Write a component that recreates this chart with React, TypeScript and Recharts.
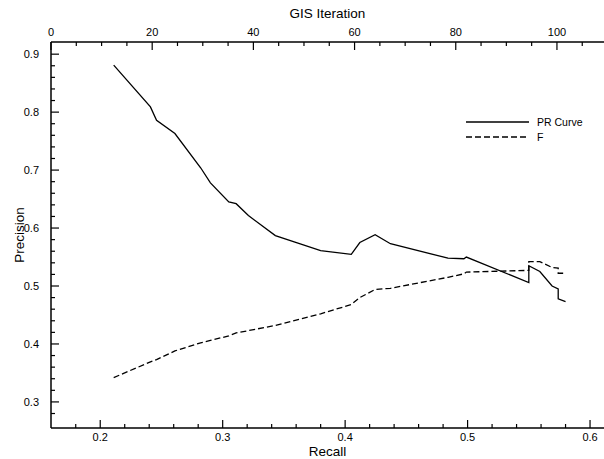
import React from "react";
import { Legend, Line, LineChart, XAxis, YAxis } from "recharts";

// values
const recall = [
  0.211, 0.241, 0.246, 0.261, 0.282, 0.29, 0.305, 0.311, 0.321, 0.343, 0.38,
  0.405, 0.412, 0.4245, 0.437, 0.484, 0.497, 0.499, 0.55, 0.55, 0.559, 0.569,
  0.574, 0.574, 0.58,
];
const precision = [
  0.881, 0.809, 0.786, 0.763, 0.704, 0.678, 0.645, 0.642, 0.6215, 0.587, 0.561,
  0.5545, 0.575, 0.5886, 0.573, 0.548, 0.547, 0.55, 0.506, 0.535, 0.525, 0.5,
  0.495, 0.478, 0.473,
];
const fScore = [
  0.342, 0.369, 0.373, 0.388, 0.402, 0.406, 0.414, 0.419, 0.423, 0.432, 0.452,
  0.468, 0.48, 0.494, 0.496, 0.515, 0.521, 0.524, 0.527, 0.542, 0.542, 0.532,
  0.531, 0.522, 0.522,
];

const recallTicks = [
  0.18, 0.2, 0.22, 0.24, 0.26, 0.28, 0.3, 0.32, 0.34, 0.36, 0.38, 0.4, 0.42,
  0.44, 0.46, 0.48, 0.5, 0.52, 0.54, 0.56, 0.58, 0.6,
];
const precisionTicks = [
  0.28, 0.3, 0.32, 0.34, 0.36, 0.38, 0.4, 0.42, 0.44, 0.46, 0.48, 0.5, 0.52,
  0.54, 0.56, 0.58, 0.6, 0.62, 0.64, 0.66, 0.68, 0.7, 0.72, 0.74, 0.76, 0.78,
  0.8, 0.82, 0.84, 0.86, 0.88, 0.9,
];
const iterationTicks = [
  0, 5, 10, 15, 20, 25, 30, 35, 40, 45, 50, 55, 60, 65, 70, 75, 80, 85, 90, 95,
  100, 105,
];
const seriesOrder = ["precision", "f"];

const data = recall.map((r, i) => ({
  recall: r,
  precision: precision[i],
  f: fScore[i],
}));

const FONT = "'Liberation Sans', Arial, Helvetica, sans-serif";
const MAJOR = 8;
const MINOR = 4;

const isMajor = (v: number, step: number) =>
  Math.abs(v / step - Math.round(v / step)) < 1e-6;

const BottomTick = ({ x, y, payload }: any) => {
  const major = isMajor(payload.value, 0.1);
  return (
    <g>
      <line x1={x} y1={y} x2={x} y2={y - (major ? MAJOR : MINOR)} stroke="#000" strokeWidth={1.2} />
      {major && (
        <text x={x} y={y + 9} dy="0.35em" textAnchor="middle" fontSize={11} fontFamily={FONT} fill="#000">
          {payload.value.toFixed(1)}
        </text>
      )}
    </g>
  );
};

const TopTick = ({ x, y, payload }: any) => {
  const major = isMajor(payload.value, 20);
  return (
    <g>
      <line x1={x} y1={y} x2={x} y2={y + (major ? MAJOR : MINOR)} stroke="#000" strokeWidth={1.2} />
      {major && (
        <text x={x} y={y - 10} dy="0.35em" textAnchor="middle" fontSize={11} fontFamily={FONT} fill="#000">
          {payload.value}
        </text>
      )}
    </g>
  );
};

const LeftTick = ({ x, y, payload }: any) => {
  const major = isMajor(payload.value, 0.1);
  return (
    <g>
      <line x1={x} y1={y} x2={x + (major ? MAJOR : MINOR)} y2={y} stroke="#000" strokeWidth={1.2} />
      {major && (
        <text x={x - 12} y={y} dy="0.35em" textAnchor="end" fontSize={11} fontFamily={FONT} fill="#000">
          {payload.value.toFixed(1)}
        </text>
      )}
    </g>
  );
};

const axisTitle = (text: string, dx: number, dy: number, rotate = false) =>
  ({ viewBox }: any) => {
    const cx = rotate ? viewBox.x + dx : viewBox.x + viewBox.width / 2;
    const cy = rotate ? viewBox.y + viewBox.height / 2 : viewBox.y + dy;
    return (
      <text
        x={cx}
        y={cy}
        dy="0.35em"
        textAnchor="middle"
        fontSize={13.5}
        fontFamily={FONT}
        fill="#000"
        transform={rotate ? `rotate(-90 ${cx} ${cy})` : undefined}
      >
        {text}
      </text>
    );
  };

const LegendBox = ({ payload }: any) => {
  const items = [...(payload || [])].sort(
    (a: any, b: any) => seriesOrder.indexOf(a.dataKey) - seriesOrder.indexOf(b.dataKey)
  );
  return (
    <div style={{ fontFamily: FONT, fontSize: 10.5, color: "#000" }}>
      {items.map((p: any) => (
        <div key={p.value} style={{ display: "flex", alignItems: "center", height: 14.6 }}>
          <svg width={64} height={6}>
            <line
              x1={0}
              y1={3}
              x2={63}
              y2={3}
              stroke="#000"
              strokeWidth={1.3}
              strokeDasharray={p.dataKey === "f" ? "6 3" : undefined}
            />
          </svg>
          <span style={{ marginLeft: 7 }}>{p.value}</span>
        </div>
      ))}
    </div>
  );
};

export default function App() {
  return (
    <div style={{ position: "absolute", left: 0, top: 0, background: "#fff" }}>
      <LineChart
        width={604}
        height={459}
        data={data}
        margin={{ top: 0, right: 0, bottom: 0, left: 0 }}
      >
        <XAxis
          xAxisId="recall"
          dataKey="recall"
          type="number"
          domain={[0.1598, 0.6114]}
          allowDataOverflow
          ticks={recallTicks}
          interval={0}
          tickSize={0}
          tickMargin={0}
          tickLine={false}
          tick={<BottomTick />}
          axisLine={{ stroke: "#000", strokeWidth: 1.5 }}
          height={31}
          label={axisTitle("Recall", 0, 23)}
        />
        <XAxis
          xAxisId="iter"
          dataKey="iteration"
          orientation="top"
          type="number"
          domain={[0, 109.3]}
          allowDataOverflow
          ticks={iterationTicks}
          interval={0}
          tickSize={0}
          tickMargin={0}
          tickLine={false}
          tick={<TopTick />}
          axisLine={{ stroke: "#000", strokeWidth: 1.5 }}
          height={42}
          label={axisTitle("GIS Iteration", 0, 13)}
        />
        <YAxis
          yAxisId="p"
          type="number"
          domain={[0.255, 0.921]}
          allowDataOverflow
          ticks={precisionTicks}
          interval={0}
          tickSize={0}
          tickMargin={0}
          tickLine={false}
          tick={<LeftTick />}
          axisLine={{ stroke: "#000", strokeWidth: 1.5 }}
          width={51}
          label={axisTitle("Precision", 19, 0, true)}
        />
        <Legend
          layout="vertical"
          align="center"
          verticalAlign="middle"
          content={<LegendBox />}
          wrapperStyle={{ left: 466, top: 115, width: 130 }}
        />
        <Line
          xAxisId="recall"
          yAxisId="p"
          dataKey="precision"
          name="PR Curve"
          type="linear"
          stroke="#000"
          strokeWidth={1.3}
          dot={false}
          activeDot={false}
          isAnimationActive={false}
        />
        <Line
          xAxisId="recall"
          yAxisId="p"
          dataKey="f"
          name="F"
          type="linear"
          stroke="#000"
          strokeWidth={1.3}
          strokeDasharray="6 3"
          dot={false}
          activeDot={false}
          isAnimationActive={false}
        />
      </LineChart>
    </div>
  );
}
